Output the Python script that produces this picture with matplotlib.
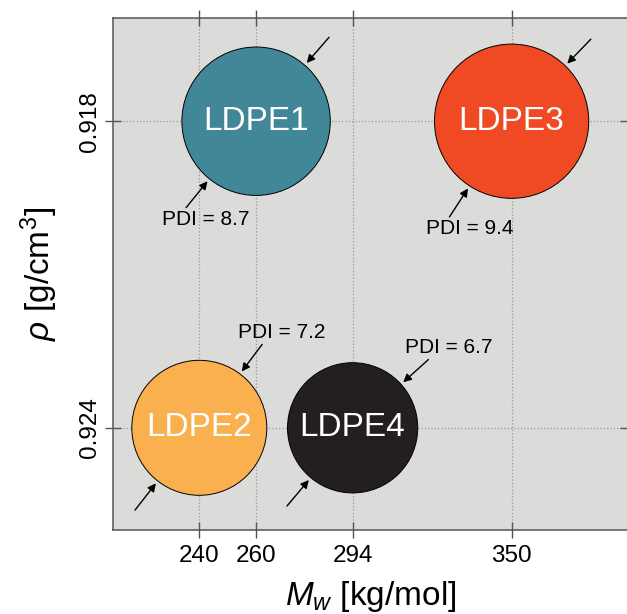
import numpy as np
import matplotlib
matplotlib.use('Agg')
import matplotlib.pyplot as plt

# sample data
names = ['LDPE1', 'LDPE2', 'LDPE3', 'LDPE4']
mw = [260, 240, 350, 294]          # kg/mol
rho = [0.918, 0.924, 0.918, 0.924]  # g/cm3
pdi = [8.7, 7.2, 9.4, 6.7]
colors = ['#418797', '#fbb050', '#ef4a23', '#231f20']

x_ticks = [240, 260, 294, 350]
y_ticks = [0.918, 0.924]

# layout only: arrow directions (deg) and which arrow carries the PDI label
ne_angle = [49, 53, 46, 42]
sw_angle = [231, 232, 237, 230]
label_on = ['sw', 'ne', 'sw', 'ne']

plt.rcParams['font.family'] = ['Liberation Sans', 'DejaVu Sans']
plt.rcParams['mathtext.fontset'] = 'custom'
plt.rcParams['mathtext.rm'] = 'Liberation Sans'
plt.rcParams['mathtext.it'] = 'Liberation Sans:italic'

dpi = 100
fig = plt.figure(figsize=(6.27, 6.14), dpi=dpi)
ax = fig.add_axes([113 / 627, 84 / 614, 515 / 627, 512 / 614])
ax.set_facecolor('#dbdbda')

px = 72 / dpi  # points per pixel
size_k = 1312   # marker area per unit PDI (area ~ PDI)

ax.scatter(mw, rho, s=np.array(pdi) * size_k, c=colors,
           edgecolors='black', linewidths=0.7, zorder=3)

for i, name in enumerate(names):
    ax.text(mw[i], rho[i], name, color='white', fontsize=24,
            ha='center', va='center', zorder=4)

    r = 25.15 * np.sqrt(pdi[i])  # circle radius in pixels
    for side, ang in (('ne', ne_angle[i]), ('sw', sw_angle[i])):
        a = np.radians(ang)
        tail = (r + 37) * px
        head = (r + 3) * px
        tx, ty = tail * np.cos(a), tail * np.sin(a)
        ax.annotate('', xy=(mw[i], rho[i]), xycoords='data',
                    xytext=(tx, ty), textcoords='offset points',
                    arrowprops=dict(arrowstyle='-|>', color='black', lw=1,
                                    mutation_scale=12, shrinkA=0,
                                    shrinkB=head),
                    zorder=5)
        if side == label_on[i]:
            dy = -11.5 if side == 'sw' else 11.5
            ax.annotate(f'PDI = {pdi[i]}', xy=(mw[i], rho[i]),
                        xytext=(tx + 20 * px, ty + dy * px),
                        textcoords='offset points', fontsize=15,
                        ha='center', va='center', zorder=5)

ax.set_xlim(209.6, 391)
ax.set_ylim(0.926, 0.91598)
ax.set_xticks(x_ticks)
ax.set_yticks(y_ticks)
ax.set_yticklabels([f'{v:.3f}' for v in y_ticks], rotation=90, va='center')

ax.grid(True, linestyle=':', color='#999999', linewidth=0.9)
ax.set_axisbelow(True)

for sp in ax.spines.values():
    sp.set_color('#555555')
    sp.set_linewidth(1.1)

ax.tick_params(direction='inout', length=11, width=1, color='#555555',
               labelsize=17.5, top=True, right=True)
ax.tick_params(axis='x', pad=5)
ax.tick_params(axis='y', pad=3)

ax.set_xlabel(r'$M_w$ [kg/mol]', fontsize=24, labelpad=9)
ax.set_ylabel(r'$\rho$ [g/cm$^3$]', fontsize=24, labelpad=14)

fig.savefig('out.png', dpi=dpi)
